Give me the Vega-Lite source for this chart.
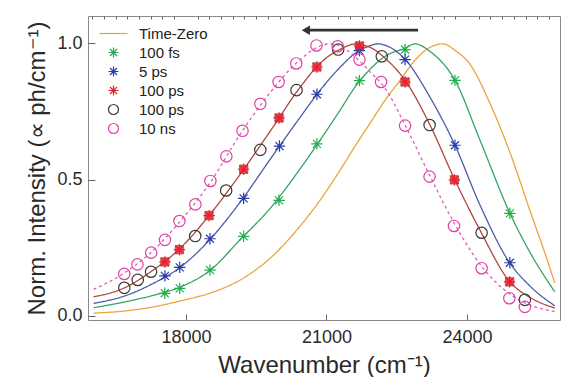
{
  "$schema": "https://vega.github.io/schema/vega-lite/v6.json",
  "width": 472,
  "height": 304,
  "autosize": {"type": "none"},
  "padding": {"left": 88, "top": 16, "right": 5, "bottom": 57},
  "background": "white",
  "config": {
    "font": "Liberation Sans",
    "view": {"stroke": "#8a8a8a", "strokeWidth": 1},
    "axis": {
      "labelFont": "Liberation Sans", "titleFont": "Liberation Sans",
      "labelColor": "#2a2a2a", "titleColor": "#2a2a2a",
      "grid": false, "domain": false, "tickColor": "#666666", "tickWidth": 1,
      "labelFontSize": 18, "titleFontSize": 24, "titleFontWeight": "normal", "labelFlush": false
    }
  },
  "datasets": {
    "lines": [
      {"series": "Time-Zero", "x": 16029, "y": 0.010}, {"series": "Time-Zero", "x": 16689, "y": 0.018}, {"series": "Time-Zero", "x": 17243, "y": 0.031}, {"series": "Time-Zero", "x": 17883, "y": 0.055}, {"series": "Time-Zero", "x": 18522, "y": 0.084}, {"series": "Time-Zero", "x": 19161, "y": 0.132}, {"series": "Time-Zero", "x": 19801, "y": 0.212}, {"series": "Time-Zero", "x": 20440, "y": 0.330}, {"series": "Time-Zero", "x": 20866, "y": 0.425}, {"series": "Time-Zero", "x": 21292, "y": 0.535}, {"series": "Time-Zero", "x": 21612, "y": 0.623}, {"series": "Time-Zero", "x": 21932, "y": 0.707}, {"series": "Time-Zero", "x": 22251, "y": 0.791}, {"series": "Time-Zero", "x": 22571, "y": 0.864}, {"series": "Time-Zero", "x": 22891, "y": 0.938}, {"series": "Time-Zero", "x": 23210, "y": 0.985}, {"series": "Time-Zero", "x": 23487, "y": 0.998}, {"series": "Time-Zero", "x": 23743, "y": 0.974}, {"series": "Time-Zero", "x": 24063, "y": 0.923}, {"series": "Time-Zero", "x": 24489, "y": 0.780}, {"series": "Time-Zero", "x": 24915, "y": 0.600}, {"series": "Time-Zero", "x": 25341, "y": 0.388}, {"series": "Time-Zero", "x": 25661, "y": 0.231}, {"series": "Time-Zero", "x": 25874, "y": 0.121},
      {"series": "100 fs", "x": 16029, "y": 0.030}, {"series": "100 fs", "x": 16689, "y": 0.051}, {"series": "100 fs", "x": 17243, "y": 0.073}, {"series": "100 fs", "x": 17883, "y": 0.106}, {"series": "100 fs", "x": 18522, "y": 0.168}, {"series": "100 fs", "x": 19161, "y": 0.280}, {"series": "100 fs", "x": 19801, "y": 0.395}, {"series": "100 fs", "x": 20440, "y": 0.540}, {"series": "100 fs", "x": 20866, "y": 0.645}, {"series": "100 fs", "x": 21292, "y": 0.755}, {"series": "100 fs", "x": 21612, "y": 0.840}, {"series": "100 fs", "x": 21932, "y": 0.905}, {"series": "100 fs", "x": 22251, "y": 0.952}, {"series": "100 fs", "x": 22678, "y": 0.982}, {"series": "100 fs", "x": 22891, "y": 0.998}, {"series": "100 fs", "x": 23210, "y": 0.970}, {"series": "100 fs", "x": 23743, "y": 0.864}, {"series": "100 fs", "x": 24276, "y": 0.645}, {"series": "100 fs", "x": 24915, "y": 0.377}, {"series": "100 fs", "x": 25341, "y": 0.234}, {"series": "100 fs", "x": 25874, "y": 0.088},
      {"series": "5 ps", "x": 16029, "y": 0.046}, {"series": "5 ps", "x": 16689, "y": 0.073}, {"series": "5 ps", "x": 17243, "y": 0.114}, {"series": "5 ps", "x": 17883, "y": 0.179}, {"series": "5 ps", "x": 18522, "y": 0.282}, {"series": "5 ps", "x": 19161, "y": 0.418}, {"series": "5 ps", "x": 19801, "y": 0.575}, {"series": "5 ps", "x": 20440, "y": 0.729}, {"series": "5 ps", "x": 20866, "y": 0.828}, {"series": "5 ps", "x": 21292, "y": 0.912}, {"series": "5 ps", "x": 21612, "y": 0.963}, {"series": "5 ps", "x": 21932, "y": 0.991}, {"series": "5 ps", "x": 22102, "y": 0.998}, {"series": "5 ps", "x": 22251, "y": 0.993}, {"series": "5 ps", "x": 22678, "y": 0.941}, {"series": "5 ps", "x": 23210, "y": 0.802}, {"series": "5 ps", "x": 23743, "y": 0.626}, {"series": "5 ps", "x": 24276, "y": 0.407}, {"series": "5 ps", "x": 24915, "y": 0.194}, {"series": "5 ps", "x": 25341, "y": 0.110}, {"series": "5 ps", "x": 25874, "y": 0.037},
      {"series": "100 ps", "x": 16029, "y": 0.070}, {"series": "100 ps", "x": 16689, "y": 0.103}, {"series": "100 ps", "x": 17243, "y": 0.161}, {"series": "100 ps", "x": 17883, "y": 0.249}, {"series": "100 ps", "x": 18522, "y": 0.374}, {"series": "100 ps", "x": 19161, "y": 0.520}, {"series": "100 ps", "x": 19801, "y": 0.678}, {"series": "100 ps", "x": 20440, "y": 0.839}, {"series": "100 ps", "x": 20866, "y": 0.927}, {"series": "100 ps", "x": 21292, "y": 0.978}, {"series": "100 ps", "x": 21612, "y": 0.997}, {"series": "100 ps", "x": 21932, "y": 0.985}, {"series": "100 ps", "x": 22251, "y": 0.945}, {"series": "100 ps", "x": 22678, "y": 0.864}, {"series": "100 ps", "x": 23210, "y": 0.700}, {"series": "100 ps", "x": 23743, "y": 0.498}, {"series": "100 ps", "x": 24276, "y": 0.315}, {"series": "100 ps", "x": 24915, "y": 0.125}, {"series": "100 ps", "x": 25341, "y": 0.068}, {"series": "100 ps", "x": 25874, "y": 0.029},
      {"series": "10 ns", "x": 16029, "y": 0.097}, {"series": "10 ns", "x": 16689, "y": 0.158}, {"series": "10 ns", "x": 17243, "y": 0.231}, {"series": "10 ns", "x": 17883, "y": 0.348}, {"series": "10 ns", "x": 18522, "y": 0.490}, {"series": "10 ns", "x": 19161, "y": 0.667}, {"series": "10 ns", "x": 19801, "y": 0.820}, {"series": "10 ns", "x": 20440, "y": 0.940}, {"series": "10 ns", "x": 20866, "y": 0.990}, {"series": "10 ns", "x": 21079, "y": 0.998}, {"series": "10 ns", "x": 21292, "y": 0.990}, {"series": "10 ns", "x": 21612, "y": 0.950}, {"series": "10 ns", "x": 21932, "y": 0.895}, {"series": "10 ns", "x": 22251, "y": 0.835}, {"series": "10 ns", "x": 22678, "y": 0.700}, {"series": "10 ns", "x": 23210, "y": 0.513}, {"series": "10 ns", "x": 23743, "y": 0.335}, {"series": "10 ns", "x": 24276, "y": 0.190}, {"series": "10 ns", "x": 24915, "y": 0.080}, {"series": "10 ns", "x": 25341, "y": 0.040}, {"series": "10 ns", "x": 25874, "y": 0.016}
    ],
    "points": [
      {"series": "100 fs", "x": 17548, "y": 0.083}, {"series": "100 fs", "x": 17868, "y": 0.101}, {"series": "100 fs", "x": 18514, "y": 0.168}, {"series": "100 fs", "x": 19232, "y": 0.292}, {"series": "100 fs", "x": 19988, "y": 0.424}, {"series": "100 fs", "x": 20796, "y": 0.631}, {"series": "100 fs", "x": 21704, "y": 0.863}, {"series": "100 fs", "x": 22678, "y": 0.977}, {"series": "100 fs", "x": 23743, "y": 0.864}, {"series": "100 fs", "x": 24915, "y": 0.376},
      {"series": "5 ps", "x": 17552, "y": 0.147}, {"series": "5 ps", "x": 17868, "y": 0.178}, {"series": "5 ps", "x": 18514, "y": 0.283}, {"series": "5 ps", "x": 19232, "y": 0.431}, {"series": "5 ps", "x": 19997, "y": 0.623}, {"series": "5 ps", "x": 20796, "y": 0.813}, {"series": "5 ps", "x": 21704, "y": 0.973}, {"series": "5 ps", "x": 22678, "y": 0.940}, {"series": "5 ps", "x": 23743, "y": 0.626}, {"series": "5 ps", "x": 24915, "y": 0.195},
      {"series": "100 ps", "x": 17552, "y": 0.198}, {"series": "100 ps", "x": 17861, "y": 0.243}, {"series": "100 ps", "x": 18494, "y": 0.368}, {"series": "100 ps", "x": 19232, "y": 0.538}, {"series": "100 ps", "x": 19988, "y": 0.726}, {"series": "100 ps", "x": 20796, "y": 0.913}, {"series": "100 ps", "x": 21704, "y": 0.990}, {"series": "100 ps", "x": 22678, "y": 0.858}, {"series": "100 ps", "x": 23732, "y": 0.499}, {"series": "100 ps", "x": 24909, "y": 0.125},
      {"series": "100 ps (o)", "x": 16685, "y": 0.103}, {"series": "100 ps (o)", "x": 16971, "y": 0.132}, {"series": "100 ps (o)", "x": 17256, "y": 0.162}, {"series": "100 ps (o)", "x": 18198, "y": 0.293}, {"series": "100 ps (o)", "x": 18859, "y": 0.460}, {"series": "100 ps (o)", "x": 19588, "y": 0.609}, {"series": "100 ps (o)", "x": 20361, "y": 0.828}, {"series": "100 ps (o)", "x": 21250, "y": 0.977}, {"series": "100 ps (o)", "x": 22181, "y": 0.952}, {"series": "100 ps (o)", "x": 23202, "y": 0.700}, {"series": "100 ps (o)", "x": 24312, "y": 0.305}, {"series": "100 ps (o)", "x": 25235, "y": 0.059},
      {"series": "10 ns", "x": 16683, "y": 0.154}, {"series": "10 ns", "x": 16966, "y": 0.189}, {"series": "10 ns", "x": 17258, "y": 0.232}, {"series": "10 ns", "x": 17552, "y": 0.279}, {"series": "10 ns", "x": 17861, "y": 0.348}, {"series": "10 ns", "x": 18202, "y": 0.409}, {"series": "10 ns", "x": 18522, "y": 0.495}, {"series": "10 ns", "x": 18863, "y": 0.585}, {"series": "10 ns", "x": 19208, "y": 0.679}, {"series": "10 ns", "x": 19588, "y": 0.778}, {"series": "10 ns", "x": 19978, "y": 0.858}, {"series": "10 ns", "x": 20355, "y": 0.926}, {"series": "10 ns", "x": 20787, "y": 0.992}, {"series": "10 ns", "x": 21239, "y": 0.989}, {"series": "10 ns", "x": 21704, "y": 0.940}, {"series": "10 ns", "x": 22166, "y": 0.858}, {"series": "10 ns", "x": 22678, "y": 0.698}, {"series": "10 ns", "x": 23200, "y": 0.511}, {"series": "10 ns", "x": 23722, "y": 0.330}, {"series": "10 ns", "x": 24312, "y": 0.175}, {"series": "10 ns", "x": 24904, "y": 0.065}, {"series": "10 ns", "x": 25235, "y": 0.033}
    ],
    "arrow": [{"x": 20440, "x2": 22955, "y": 1.048, "head": 20560}]
  },
  "resolve": {"axis": {"x": "independent"}},
  "layer": [
    {
      "data": {"name": "lines"},
      "mark": {"type": "line", "strokeWidth": 1.3, "interpolate": "monotone", "clip": true},
      "encoding": {
        "x": {"field": "x", "type": "quantitative",
              "scale": {"domain": [15910, 25985], "nice": false, "zero": false},
              "axis": {"values": [18000, 21000, 24000], "format": "d", "tickSize": -6, "labelPadding": 14,
                       "title": "Wavenumber (cm⁻¹)", "titleY": 52, "titleBaseline": "alphabetic"}},
        "y": {"field": "y", "type": "quantitative",
              "scale": {"domain": [-0.015, 1.1], "nice": false, "zero": false},
              "axis": {"values": [0, 0.5, 1], "format": ".1f", "tickSize": -7, "labelPadding": 13,
                       "title": "Norm. Intensity (∝ ph/cm⁻¹)", "titleX": -44, "titleBaseline": "alphabetic"}},
        "stroke": {"field": "series", "type": "nominal",
                   "scale": {"domain": ["Time-Zero", "100 fs", "5 ps", "100 ps", "10 ns"],
                             "range": ["#eaa43e", "#35a463", "#4a5ca8", "#b0463c", "#e25cb5"]},
                   "legend": null},
        "strokeDash": {"field": "series", "type": "nominal",
                       "scale": {"domain": ["Time-Zero", "100 fs", "5 ps", "100 ps", "10 ns"],
                                 "range": [[1, 0], [1, 0], [1, 0], [1, 0], [3, 3]]},
                       "legend": null}
      }
    },
    {
      "data": {"name": "points"},
      "transform": [{"filter": "datum.series == '100 ps'"}],
      "mark": {"type": "square", "filled": true, "size": 70, "color": "#e8303a", "opacity": 0.85, "stroke": "#a03030", "strokeWidth": 0.8},
      "encoding": {
        "x": {"field": "x", "type": "quantitative", "axis": {"values": [16000, 16250, 16500, 16750, 17000, 17250, 17500, 17750, 18250, 18500, 18750, 19000, 19250, 19500, 19750, 20000, 20250, 20500, 20750, 21250, 21500, 21750, 22000, 22250, 22500, 22750, 23000, 23250, 23500, 23750, 24250, 24500, 24750, 25000, 25250, 25500, 25750], "labels": false, "tickSize": -3, "title": null}},
        "y": {"field": "y", "type": "quantitative"}
      }
    },
    {
      "data": {"name": "points"},
      "mark": {"type": "point", "filled": false, "size": 130, "strokeWidth": 1.2, "opacity": 1},
      "encoding": {
        "x": {"field": "x", "type": "quantitative", "axis": null},
        "y": {"field": "y", "type": "quantitative"},
        "color": {"field": "series", "type": "nominal",
                  "scale": {"domain": ["Time-Zero", "100 fs", "5 ps", "100 ps", "100 ps (o)", "10 ns"],
                            "range": ["#e9a23b", "#21b04f", "#2b3ba8", "#e8202c", "#3a3a3a", "#e23fa6"]},
                  "legend": {"title": null, "orient": "none", "legendX": 18, "legendY": 10, "padding": 0,
                             "symbolSize": 100, "symbolStrokeWidth": 1.2, "labelFontSize": 15, "labelColor": "#222222",
                             "labelOffset": 18, "rowPadding": 3, "labelFont": "Liberation Sans",
                             "labelExpr": "datum.label == '100 ps (o)' ? '100 ps' : datum.label"}},
        "shape": {"field": "series", "type": "nominal",
                  "scale": {"domain": ["Time-Zero", "100 fs", "5 ps", "100 ps", "100 ps (o)", "10 ns"],
                            "range": ["M-2.8,0L2.8,0",
                                      "M-1,0L1,0M0,-1L0,1M-0.7,-0.7L0.7,0.7M-0.7,0.7L0.7,-0.7",
                                      "M-1,0L1,0M0,-1L0,1M-0.7,-0.7L0.7,0.7M-0.7,0.7L0.7,-0.7",
                                      "M-1,0L1,0M0,-1L0,1M-0.7,-0.7L0.7,0.7M-0.7,0.7L0.7,-0.7",
                                      "circle", "circle"]},
                  "legend": {"title": null, "orient": "none", "legendX": 18, "legendY": 10, "padding": 0,
                             "symbolSize": 100, "symbolStrokeWidth": 1.2, "labelFontSize": 15, "labelColor": "#222222",
                             "labelOffset": 18, "rowPadding": 3, "labelFont": "Liberation Sans",
                             "labelExpr": "datum.label == '100 ps (o)' ? '100 ps' : datum.label"}}
      }
    },
    {
      "data": {"name": "arrow"},
      "mark": {"type": "rule", "color": "#333333", "strokeWidth": 2.7},
      "encoding": {
        "x": {"field": "head", "type": "quantitative", "axis": null},
        "x2": {"field": "x2"},
        "y": {"field": "y", "type": "quantitative"}
      }
    },
    {
      "data": {"name": "arrow"},
      "mark": {"type": "point", "shape": "triangle-left", "filled": true, "color": "#333333", "size": 90, "opacity": 1},
      "encoding": {
        "x": {"field": "head", "type": "quantitative", "axis": null},
        "y": {"field": "y", "type": "quantitative"}
      }
    }
  ]
}
